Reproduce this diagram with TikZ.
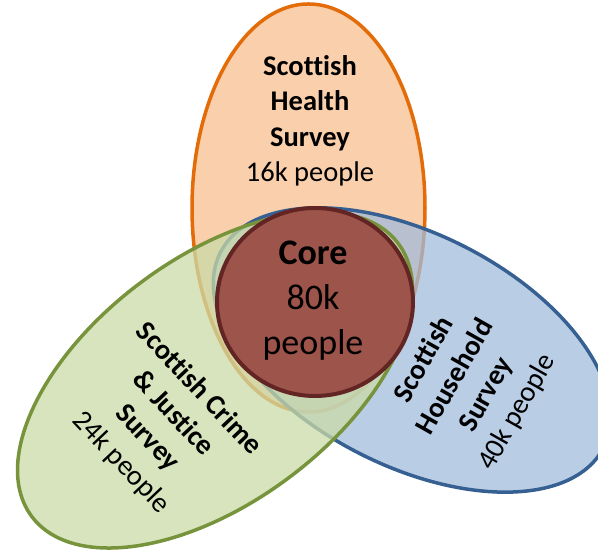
\documentclass[tikz,border=0pt]{standalone}
\usepackage{fontspec}
\setmainfont{Carlito}[Ligatures=NoCommon]
\usetikzlibrary{shapes.geometric}
\definecolor{healthfill}{RGB}{250,207,172}
\definecolor{healthline}{RGB}{227,108,9}
\definecolor{househfill}{RGB}{162,188,220}
\definecolor{househline}{RGB}{55,96,146}
\definecolor{crimefill}{RGB}{202,219,167}
\definecolor{crimeline}{RGB}{119,147,60}
\definecolor{corefill}{RGB}{157,84,74}
\definecolor{coreline}{RGB}{99,37,35}
\begin{document}
\begin{tikzpicture}[x=1pt,y=1pt]
    \tikzstyle{survey} = [ellipse,draw,line width=3.5pt,inner sep=0pt]
    \tikzstyle{lbl} = [align=center,inner sep=0pt,font=\fontsize{28.5}{35.5}\selectfont]
    \useasboundingbox (0,0) rectangle (598,553);
    %%
    \node[survey,draw=healthline,fill=healthfill,
      minimum width=233pt,minimum height=408pt] (health) at (308.5,345) {};
    \node[survey,draw=househline,fill=househfill,fill opacity=.75,
      minimum width=430pt,minimum height=232pt,rotate=-27] (household) at (412,203) {};
    \node[survey,draw=crimeline,fill=crimefill,fill opacity=.75,
      minimum width=457pt,minimum height=245pt,rotate=36.6] (crime) at (215,173) {};
    \node[survey,draw=coreline,fill=corefill,line width=4pt,
      minimum width=196pt,minimum height=188pt] (core) at (315,251) {};
    %%
    \node[lbl] (healthtxt) at (310,432)
      {\textbf{Scottish}\\\textbf{Health}\\\textbf{Survey}\\16k people};
    \node[lbl,rotate=-46.6] (crimetxt) at (160,127)
      {\textbf{Scottish Crime}\\\textbf{\& Justice}\\\textbf{Survey}\\24k people};
    \node[lbl,rotate=60.5] (householdtxt) at (471,167)
      {\textbf{Scottish}\\\textbf{Household}\\\textbf{Survey}\\40k people};
    \node[lbl,font=\fontsize{36}{45}\selectfont] (coretxt) at (313,252)
      {\textbf{Core}\\80k\\people};
\end{tikzpicture}
\end{document}
